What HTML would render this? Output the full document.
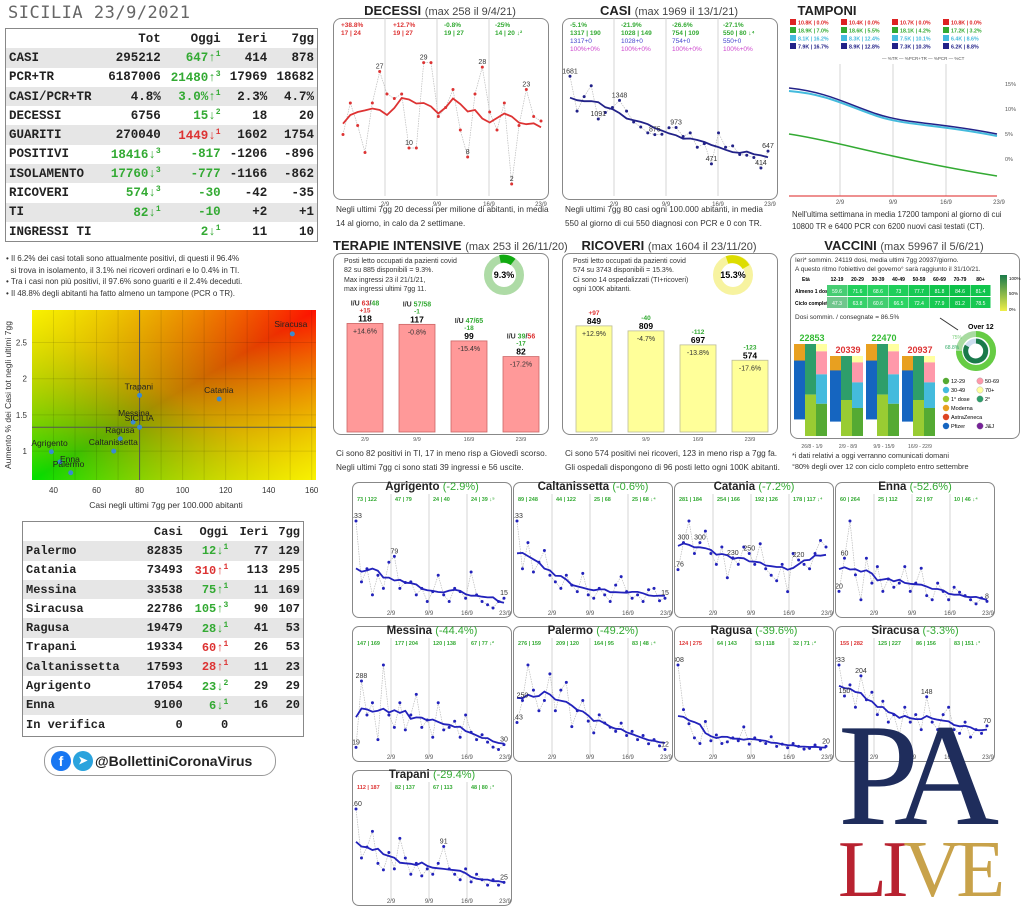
<!DOCTYPE html>
<html><head><meta charset="utf-8">
<style>
body{margin:0;width:1024px;height:918px;background:#fff;position:relative;overflow:hidden;font-family:"Liberation Sans",sans-serif;color:#222}
.a{position:absolute}
.mono{font-family:"Liberation Mono",monospace;font-weight:bold}
table.t{border-collapse:collapse;font-family:"Liberation Mono",monospace;font-weight:bold;font-size:12.5px}
table.t td{padding:0 3px;height:19.3px;text-align:right;white-space:nowrap}
table.t td:first-child{text-align:left}
table.t tr:nth-child(even) td{background:#e6e6e6}
.g{color:#3a3}.r{color:#d33}
sup{font-size:8px}
.box{position:absolute;border:1px solid #888;border-radius:8px;background:#fff}
.ttl{position:absolute;font-size:13px;font-weight:bold;text-align:center;white-space:nowrap}
.ttl span{font-weight:normal;font-size:11px;color:#444}
.cap{position:absolute;font-size:8.2px;line-height:13.5px;color:#333;white-space:nowrap}
</style></head><body>
<div class="a" style="left:8px;top:3px;font-family:'DejaVu Sans Mono',monospace;font-size:17px;color:#666;letter-spacing:0.5px">SICILIA 23/9/2021</div>
<div class="a" style="left:5px;top:28px;width:311px;height:212px;border:1px solid #888">
<table class="t" style="width:100%">
<tr style="background:#fff"><td></td><td>Tot</td><td>Oggi</td><td>Ieri</td><td>7gg</td></tr>
<tr><td>CASI</td><td>295212</td><td class="g">647↑<sup>1</sup></td><td>414</td><td>878</td></tr>
<tr><td>PCR+TR</td><td>6187006</td><td class="g">21480↑<sup>3</sup></td><td>17969</td><td>18682</td></tr>
<tr><td>CASI/PCR+TR</td><td>4.8%</td><td class="g">3.0%↑<sup>1</sup></td><td>2.3%</td><td>4.7%</td></tr>
<tr><td>DECESSI</td><td>6756</td><td class="g">15↓<sup>2</sup></td><td>18</td><td>20</td></tr>
<tr><td>GUARITI</td><td>270040</td><td class="r">1449↓<sup>1</sup></td><td>1602</td><td>1754</td></tr>
<tr><td>POSITIVI</td><td class="g">18416↓<sup>3</sup></td><td class="g">-817</td><td>-1206</td><td>-896</td></tr>
<tr><td>ISOLAMENTO</td><td class="g">17760↓<sup>3</sup></td><td class="g">-777</td><td>-1166</td><td>-862</td></tr>
<tr><td>RICOVERI</td><td class="g">574↓<sup>3</sup></td><td class="g">-30</td><td>-42</td><td>-35</td></tr>
<tr><td>TI</td><td class="g">82↓<sup>1</sup></td><td class="g">-10</td><td>+2</td><td>+1</td></tr>
<tr><td>INGRESSI TI</td><td></td><td class="g">2↓<sup>1</sup></td><td>11</td><td>10</td></tr>
</table></div>
<div class="cap" style="left:6px;top:253px;font-size:8px;line-height:11.5px">• Il 6.2% dei casi totali sono attualmente positivi, di questi il 96.4%<br>&nbsp;&nbsp;si trova in isolamento, il 3.1% nei ricoveri ordinari e lo 0.4% in TI.<br>• Tra i casi non più positivi, il 97.6% sono guariti e il 2.4% deceduti.<br>• Il 48.8% degli abitanti ha fatto almeno un tampone (PCR o TR).</div>

<svg class="a" style="left:0;top:300px" width="330" height="220" id="sc"></svg>

<div class="a" style="left:22px;top:521px;width:280px;height:214px;border:1px solid #888">
<table class="t" style="width:100%;font-size:12px">
<tr style="background:#fff"><td></td><td>Casi</td><td>Oggi</td><td>Ieri</td><td>7gg</td></tr>
<tr><td>Palermo</td><td>82835</td><td class="g">12↓<sup>1</sup></td><td>77</td><td>129</td></tr>
<tr><td>Catania</td><td>73493</td><td class="r">310↑<sup>1</sup></td><td>113</td><td>295</td></tr>
<tr><td>Messina</td><td>33538</td><td class="g">75↑<sup>1</sup></td><td>11</td><td>169</td></tr>
<tr><td>Siracusa</td><td>22786</td><td class="g">105↑<sup>3</sup></td><td>90</td><td>107</td></tr>
<tr><td>Ragusa</td><td>19479</td><td class="g">28↓<sup>1</sup></td><td>41</td><td>53</td></tr>
<tr><td>Trapani</td><td>19334</td><td class="r">60↑<sup>1</sup></td><td>26</td><td>53</td></tr>
<tr><td>Caltanissetta</td><td>17593</td><td class="r">28↑<sup>1</sup></td><td>11</td><td>23</td></tr>
<tr><td>Agrigento</td><td>17054</td><td class="g">23↓<sup>2</sup></td><td>29</td><td>29</td></tr>
<tr><td>Enna</td><td>9100</td><td class="g">6↓<sup>1</sup></td><td>16</td><td>20</td></tr>
<tr><td>In verifica</td><td>0</td><td>0</td><td></td><td></td></tr>
</table></div>
<div class="a" style="left:44px;top:746px;width:230px;height:28px;border:1px solid #999;border-radius:14px;font-weight:bold;font-size:14px;line-height:28px">
<span style="display:inline-block;width:20px;height:20px;border-radius:50%;background:#1877f2;color:#fff;text-align:center;line-height:20px;margin:4px 0 0 6px;vertical-align:top;font-size:14px">f</span><span style="display:inline-block;width:20px;height:20px;border-radius:50%;background:#2aa3dd;color:#fff;text-align:center;line-height:20px;margin:4px 2px 0 2px;vertical-align:top;font-size:11px">➤</span>@BollettiniCoronaVirus</div>

<div id="main"></div>

<div class="a" style="left:838px;top:702px;font-family:'Liberation Serif',serif;font-size:146px;color:#1f2d5c;letter-spacing:-12px;line-height:146px">PA</div>
<div class="a" style="left:838px;top:830px;font-family:'Liberation Serif',serif;font-size:80px;line-height:80px;color:#b82230;letter-spacing:-5px">LI<span style="color:#c8a24a">VE</span></div>

<script>
const NS='http://www.w3.org/2000/svg';
function svg(x,y,w,h){const s=document.createElementNS(NS,'svg');s.setAttribute('width',w);s.setAttribute('height',h);s.setAttribute('class','a');s.style.left=x+'px';s.style.top=y+'px';document.getElementById('main').appendChild(s);return s;}
function add(p,html){p.insertAdjacentHTML('beforeend',html);}
function div(x,y,cls,html,style){add(document.getElementById('main'),`<div class="${cls}" style="left:${x}px;top:${y}px;${style||''}">${html}</div>`);}
function series(s,x,y,w,h,vals,col,lab,ptcol){
 const n=vals.length,mx=Math.max(...vals)*1.15;
 const px=i=>x+i*w/(n-1),py=v=>y+h-v/mx*h;
 let pts=vals.map((v,i)=>px(i).toFixed(1)+','+py(v).toFixed(1)).join(' ');
 add(s,`<polyline points="${pts}" fill="none" stroke="#bbb" stroke-width="0.7" stroke-dasharray="1.5,1"/>`);
 let sm=vals.map((v,i)=>{let a=0,c=0;for(let k=-4;k<=4;k++){if(vals[i+k]!=null){a+=vals[i+k];c++}}return a/c});
 add(s,`<polyline points="${sm.map((v,i)=>px(i).toFixed(1)+','+py(v).toFixed(1)).join(' ')}" fill="none" stroke="${col}" stroke-width="1.8"/>`);
 vals.forEach((v,i)=>add(s,`<circle cx="${px(i)}" cy="${py(v)}" r="1.5" fill="${ptcol||col}"/>`));
 (lab||[]).forEach(i=>add(s,`<text x="${px(i)}" y="${py(vals[i])-3}" font-size="7" text-anchor="middle" fill="#333">${vals[i]}</text>`));
}
function vlines(s,x,y,w,h,dates,lblY){for(let k=1;k<=4;k++){const xx=x+w*k/4;if(k<4)add(s,`<line x1="${xx}" y1="${y}" x2="${xx}" y2="${y+h}" stroke="#ccc" stroke-width="0.8"/>`);add(s,`<text x="${xx}" y="${lblY}" font-size="6" text-anchor="middle" fill="#555">${dates[k-1]}</text>`);}}
const D=['2/9','9/9','16/9','23/9'];

div(333,3,'ttl','DECESSI <span>(max 258 il 9/4/21)</span>','width:214px');
div(333,18,'box','','width:214px;height:180px');
let s=svg(333,18,216,192);
add(s,`<text x="8" y="9" font-size="6.5" fill="#d33" font-weight="bold">+38.8%</text><text x="8" y="17" font-size="6.5" fill="#d33" font-weight="bold">17 | 24</text>
<text x="60" y="9" font-size="6.5" fill="#d33" font-weight="bold">+12.7%</text><text x="60" y="17" font-size="6.5" fill="#d33" font-weight="bold">19 | 27</text>
<text x="111" y="9" font-size="6.5" fill="#3a3" font-weight="bold">-0.8%</text><text x="111" y="17" font-size="6.5" fill="#3a3" font-weight="bold">19 | 27</text>
<text x="162" y="9" font-size="6.5" fill="#3a3" font-weight="bold">-25%</text><text x="162" y="17" font-size="6.5" fill="#3a3" font-weight="bold">14 | 20 ↓²</text>`);
vlines(s,0,0,208,178,D,188);
series(s,10,25,198,150,[13,20,15,9,20,27,22,21,22,10,10,29,29,17,19,23,14,8,22,28,18,14,20,2,15,23,17,16],'#d33',[5,9,11,17,19,23,25],'#d33');
div(336,203,'cap','Negli ultimi 7gg 20 decessi per milione di abitanti, in media<br>14 al giorno, in calo da 2 settimane.');

div(562,3,'ttl','CASI <span>(max 1969 il 13/1/21)</span>','width:214px');
div(562,18,'box','','width:214px;height:180px');
s=svg(562,18,216,192);
[['-5.1%','1317 | 190','1317+0'],['-21.9%','1028 | 149','1028+0'],['-26.6%','754 | 109','754+0'],['-27.1%','550 | 80 ↓⁴','550+0']].forEach((a,i)=>{const x=8+i*51;add(s,`<text x="${x}" y="9" font-size="6.5" fill="#3a3" font-weight="bold">${a[0]}</text><text x="${x}" y="17" font-size="6.5" fill="#3a3" font-weight="bold">${a[1]}</text><text x="${x}" y="25" font-size="6.5" fill="#44c">${a[2]}</text><text x="${x}" y="33" font-size="6.5" fill="#c4c">100%+0%</text>`)});
vlines(s,0,0,208,178,D,188);
series(s,8,40,198,140,[1681,1200,1400,1550,1091,1180,1250,1348,1200,1050,980,900,875,880,970,973,850,900,700,750,471,900,700,720,600,590,560,414,647],'#228',[0,4,7,12,15,20,27,28],'#228');
div(565,203,'cap','Negli ultimi 7gg 80 casi ogni 100.000 abitanti, in media<br>550 al giorno di cui 550 diagnosi con PCR e 0 con TR.');

div(787,3,'ttl','TAMPONI','width:80px');
s=svg(787,16,237,190);
const tc=['#d22','#3a3','#4bd','#228'];
[['10.8K | 0.0%','10.4K | 0.0%','10.7K | 0.0%','10.8K | 0.0%'],['18.9K | 7.0%','18.6K | 5.5%','18.1K | 4.2%','17.2K | 3.2%'],['8.1K | 16.2%','8.3K | 12.4%','7.5K | 10.1%','6.4K | 8.6%'],['7.9K | 16.7%','8.9K | 12.8%','7.3K | 10.3%','6.2K | 8.8%']].forEach((r,j)=>r.forEach((t,i)=>{add(s,`<rect x="${3+i*51}" y="${3+j*8}" width="6" height="6" fill="${tc[j]}"/><text x="${11+i*51}" y="${8.5+j*8}" font-size="5.3" fill="${tc[j]}" font-weight="bold">${t}</text>`)}));
add(s,`<text x="95" y="44" font-size="4.5" fill="#555">— %TR — %PCR+TR — %PCR — %CT</text>`);
vlines(s,0,48,212,132,D,188);
[60,85,110,135].forEach((yy,i)=>add(s,`<text x="218" y="${yy+10}" font-size="5.5" fill="#555">${15-5*i}%</text>`));
add(s,`<path d="M2,75 C40,78 60,90 90,100 S150,108 210,120" fill="none" stroke="#4bd" stroke-width="2"/><path d="M2,72 C40,76 60,88 90,98 S150,106 210,118" fill="none" stroke="#228" stroke-width="1.5"/><path d="M2,118 C50,125 100,142 210,160" fill="none" stroke="#3a3" stroke-width="1.5"/><line x1="2" y1="180" x2="210" y2="180" stroke="#d22"/>`);
div(792,209,'cap','Nell\'ultima settimana in media 17200 tamponi al giorno di cui<br>10800 TR e 6400 PCR con 6200 nuovi casi testati (CT).','font-size:7.8px;line-height:12px');

div(333,238,'ttl','TERAPIE INTENSIVE <span>(max 253 il 26/11/20)</span>','width:214px');
div(333,253,'box','','width:214px;height:180px');
s=svg(333,253,216,200);
add(s,`<text x="11" y="10" font-size="7" fill="#333">Posti letto occupati da pazienti covid</text><text x="11" y="19" font-size="7" fill="#333">82 su 885 disponibili = 9.3%.</text><text x="11" y="29" font-size="7" fill="#333">Max ingressi 23 il 21/1/21,</text><text x="11" y="38" font-size="7" fill="#333">max ingressi ultimi 7gg 11.</text>
<circle cx="171" cy="22" r="16" fill="none" stroke="#aedba6" stroke-width="8"/><path d="M167,6 A16,16 0 0 1 180,9" fill="none" stroke="#1a1" stroke-width="8"/><text x="171" y="25" font-size="9" text-anchor="middle" font-weight="bold">9.3%</text>`);
[[118,'+14.6%','I/U <tspan fill="#d33">63</tspan>/<tspan fill="#3a3">48</tspan>','+15','#d33'],[117,'-0.8%','I/U <tspan fill="#3a3">57/58</tspan>','-1','#3a3'],[99,'-15.4%','I/U <tspan fill="#3a3">47/65</tspan>','-18','#3a3'],[82,'-17.2%','I/U <tspan fill="#3a3">39</tspan>/<tspan fill="#d33">56</tspan>','-17','#3a3']].forEach((b,i)=>{const x=14+i*52,h=b[0]*0.92;const top=179-h;add(s,`<rect x="${x}" y="${top}" width="36" height="${h}" fill="#f99" stroke="#c66" stroke-width="0.8"/><text x="${x+18}" y="${top+10}" font-size="7" text-anchor="middle" fill="#333">${b[1]}</text><text x="${x+18}" y="${top-2}" font-size="8.5" font-weight="bold" text-anchor="middle">${b[0]}</text><text x="${x+18}" y="${top-11}" font-size="6.5" font-weight="bold" text-anchor="middle" fill="${b[4]}">${b[3]}</text><text x="${x+18}" y="${top-18}" font-size="7" font-weight="bold" text-anchor="middle" fill="#333">${b[2]}</text><text x="${x+18}" y="188" font-size="5.5" text-anchor="middle" fill="#555">${D[i]}</text>`)});
div(336,447,'cap','Ci sono 82 positivi in TI, 17 in meno risp a Giovedì scorso.<br>Negli ultimi 7gg ci sono stati 39 ingressi e 56 uscite.');

div(562,238,'ttl','RICOVERI <span>(max 1604 il 23/11/20)</span>','width:214px');
div(562,253,'box','','width:214px;height:180px');
s=svg(562,253,216,200);
add(s,`<text x="11" y="10" font-size="7" fill="#333">Posti letto occupati da pazienti covid</text><text x="11" y="19" font-size="7" fill="#333">574 su 3743 disponibili = 15.3%.</text><text x="11" y="29" font-size="7" fill="#333">Ci sono 14 ospedalizzati (TI+ricoveri)</text><text x="11" y="38" font-size="7" fill="#333">ogni 100K abitanti.</text>
<circle cx="171" cy="22" r="16" fill="none" stroke="#f7f3a0" stroke-width="8"/><path d="M165,7 A16,16 0 0 1 184,14" fill="none" stroke="#dd0" stroke-width="8"/><text x="171" y="25" font-size="9" text-anchor="middle" font-weight="bold">15.3%</text>`);
[[849,'+12.9%','+97','#d33'],[809,'-4.7%','-40','#3a3'],[697,'-13.8%','-112','#3a3'],[574,'-17.6%','-123','#3a3']].forEach((b,i)=>{const x=14+i*52,h=b[0]*0.125,top=179-h;add(s,`<rect x="${x}" y="${top}" width="36" height="${h}" fill="#ffff99" stroke="#bb9" stroke-width="0.8"/><text x="${x+18}" y="${top+10}" font-size="7" text-anchor="middle" fill="#333">${b[1]}</text><text x="${x+18}" y="${top-2}" font-size="8.5" font-weight="bold" text-anchor="middle">${b[0]}</text><text x="${x+18}" y="${top-11}" font-size="6.5" font-weight="bold" text-anchor="middle" fill="${b[3]}">${b[2]}</text><text x="${x+18}" y="188" font-size="5.5" text-anchor="middle" fill="#555">${D[i]}</text>`)});
div(565,447,'cap','Ci sono 574 positivi nei ricoveri, 123 in meno risp a 7gg fa.<br>Gli ospedali dispongono di 96 posti letto ogni 100K abitanti.');

div(790,238,'ttl','VACCINI <span>(max 59967 il 5/6/21)</span>','width:228px');
div(790,253,'box','','width:228px;height:184px');
s=svg(790,253,234,200);
add(s,`<text x="5" y="9" font-size="6.5" fill="#333">Ieri* sommin. 24119 dosi, media ultimi 7gg 20937/giorno.</text><text x="5" y="18" font-size="6.5" fill="#333">A questo ritmo l'obiettivo del governo° sarà raggiunto il 31/10/21.</text>`);
const ages=['12-19','20-29','30-39','40-49','50-59','60-69','70-79','80+'],r1=[59.6,71.6,68.6,73,77.7,81.8,84.6,81.4],r2=[47.3,63.8,60.6,66.5,72.4,77.9,81.2,78.5];
add(s,`<text x="12" y="28" font-size="5" font-weight="bold">Età</text><text x="5" y="40" font-size="5" font-weight="bold">Almeno 1 dose</text><text x="5" y="52" font-size="5" font-weight="bold">Ciclo completo</text><rect x="210" y="22" width="7" height="36" fill="url(#gr)"/><defs><linearGradient id="gr" x1="0" y1="0" x2="0" y2="1"><stop offset="0" stop-color="#1a7a4a"/><stop offset="1" stop-color="#efef4a"/></linearGradient></defs><text x="219" y="27" font-size="4.5">100%</text><text x="219" y="42" font-size="4.5">50%</text><text x="219" y="58" font-size="4.5">0%</text>`);
ages.forEach((a,i)=>{const x=37+i*20.5;const c=v=>`hsl(140,${40+((v-45)*1.2)}%,${62-(v-45)*0.55}%)`;add(s,`<text x="${x+10}" y="28" font-size="5" text-anchor="middle" font-weight="bold">${a}</text><rect x="${x}" y="32" width="20" height="11" fill="${c(r1[i])}"/><rect x="${x}" y="44" width="20" height="11" fill="${c(r2[i])}"/><text x="${x+10}" y="40" font-size="5" text-anchor="middle" fill="#fff">${r1[i]}</text><text x="${x+10}" y="52" font-size="5" text-anchor="middle" fill="#fff">${r2[i]}</text>`)});
add(s,`<text x="5" y="66" font-size="6.5" fill="#333">Dosi sommin. / consegnate = 86.5%</text><text x="178" y="76" font-size="7" font-weight="bold">Over 12</text><line x1="150" y1="65" x2="168" y2="77" stroke="#333"/>
<circle cx="186" cy="98" r="17" fill="none" stroke="#a8dba0" stroke-width="6"/><path d="M186,81 A17,17 0 1 1 169,98" fill="none" stroke="#6c4" stroke-width="6"/><circle cx="186" cy="98" r="10" fill="none" stroke="#cde" stroke-width="5"/><path d="M186,88 A10,10 0 1 1 177,93" fill="none" stroke="#1a7a4a" stroke-width="5"/><text x="162" y="86" font-size="5" fill="#7c7">75%</text><text x="155" y="96" font-size="5" fill="#3a6">68.8%</text>`);
[[22853,'#3b3'],[20339,'#d33'],[22470,'#3b3'],[20937,'#d33']].forEach((b,i)=>{const x=4+i*36,base=183;const H=b[0]==22853||b[0]==22470?92:80;
add(s,`<text x="${x+18}" y="${base-H-3}" font-size="9" font-weight="bold" text-anchor="middle" fill="${b[1]}">${b[0]}</text>
<rect x="${x}" y="${base-H}" width="11" height="${H*0.82}" fill="#1565c0"/><rect x="${x}" y="${base-H}" width="11" height="${H*0.18}" fill="#e8a020"/>
<rect x="${x+11}" y="${base-H}" width="11" height="${H*0.55}" fill="#2e9e6a"/><rect x="${x+11}" y="${base-H*0.45}" width="11" height="${H*0.45}" fill="#9c3"/>
<rect x="${x+22}" y="${base-H}" width="11" height="${H*0.08}" fill="#ffffa0"/><rect x="${x+22}" y="${base-H*0.92}" width="11" height="${H*0.25}" fill="#f9a"/><rect x="${x+22}" y="${base-H*0.67}" width="11" height="${H*0.32}" fill="#4bd"/><rect x="${x+22}" y="${base-H*0.35}" width="11" height="${H*0.35}" fill="#5a3"/>
<text x="${x+18}" y="195" font-size="5" text-anchor="middle" fill="#555">${['26/8 - 1/9','2/9 - 8/9','9/9 - 15/9','16/9 - 22/9'][i]}</text>`)});
[['#5a3','12-29','#f9a','50-69'],['#4bd','30-49','#ffffa0','70+'],['#9c3','1° dose','#2e9e6a','2°'],['#e8a020','Moderna'],['#d42','AstraZeneca'],['#1565c0','Pfizer','#729','J&J']].forEach((l,j)=>{const y=128+j*9;add(s,`<circle cx="156" cy="${y}" r="3.2" fill="${l[0]}"/><text x="161" y="${y+2}" font-size="5.5">${l[1]}</text>`);if(l[2])add(s,`<circle cx="190" cy="${y}" r="3.2" fill="${l[2]}" stroke="#888" stroke-width="0.3"/><text x="195" y="${y+2}" font-size="5.5">${l[3]}</text>`)});
div(792,450,'cap','*i dati relativi a oggi verranno comunicati domani<br>°80% degli over 12 con ciclo completo entro settembre','font-size:7.3px;line-height:11px');

const P=[['Agrigento','-2.9%',['73 | 122','47 | 79','24 | 40','24 | 39 ↓⁵'],['#3a3','#3a3','#3a3','#3a3'],[133,40,60,20,50,30,70,79,30,39,40,20,30,10,25,50,20,10,30,25,15,55,20,10,5,0,10,15]],
['Caltanissetta','-0.6%',['89 | 248','44 | 122','25 | 68','25 | 68 ↓⁴'],['#3a3','#3a3','#3a3','#3a3'],[133,60,100,55,70,88,50,40,30,50,35,25,53,20,15,30,20,10,35,48,25,15,20,10,28,30,11,15]],
['Catania','-7.2%',['281 | 184','254 | 166','192 | 126','178 | 117 ↓⁴'],['#3a3','#3a3','#3a3','#3a3'],[176,300,399,250,300,353,250,200,280,139,230,200,280,250,200,295,180,150,125,200,75,250,220,200,180,250,310,280]],
['Enna','-52.6%',['60 | 264','25 | 112','22 | 97','10 | 46 ↓⁴'],['#3a3','#3a3','#3a3','#3a3'],[20,60,105,40,10,60,30,50,20,35,25,30,50,20,30,48,15,10,30,20,10,25,19,15,10,5,12,8]],
['Messina','-44.4%',['147 | 169','177 | 204','120 | 138','67 | 77 ↓²'],['#3a3','#3a3','#3a3','#3a3'],[19,288,150,200,50,353,150,100,200,90,150,234,100,130,60,200,90,100,125,60,150,80,50,70,40,20,10,30]],
['Palermo','-49.2%',['276 | 159','209 | 120','164 | 95','83 | 48 ↓⁴'],['#3a3','#3a3','#3a3','#3a3'],[143,250,422,300,200,250,379,200,300,338,123,200,250,150,93,180,141,120,100,140,80,100,60,80,40,60,30,12]],
['Ragusa','-39.6%',['124 | 275','64 | 143','53 | 118','32 | 71 ↓²'],['#d33','#3a3','#3a3','#3a3'],[308,150,100,50,30,108,40,60,30,36,50,40,89,28,50,40,30,54,20,28,15,30,20,10,13,25,10,20]],
['Siracusa','-3.3%',['155 | 282','125 | 227','86 | 156','83 | 151 ↓³'],['#d33','#3a3','#3a3','#3a3'],[233,150,180,120,204,140,160,100,136,80,100,46,120,80,100,60,148,80,60,100,120,60,50,80,40,60,50,70]],
['Trapani','-29.4%',['112 | 187','82 | 137','67 | 113','48 | 80 ↓³'],['#d33','#3a3','#3a3','#3a3'],[160,70,90,119,60,48,80,50,106,70,40,60,37,50,40,60,91,50,40,30,50,26,40,30,20,30,20,25]]];
P.forEach((p,k)=>{const col=k%4,row=Math.floor(k/4);const x=352+col*161,y=482+row*144;
 div(x,y,'box','','width:158px;height:134px;border-radius:7px');
 div(x,y-1,'ttl',p[0]+' <span style="color:#3a3">('+p[1]+')</span>','width:160px;font-size:11.5px;background:transparent');
 const s=svg(x+1,y+12,158,125);
 p[2].forEach((t,i)=>add(s,`<text x="${4+i*38}" y="7" font-size="5.5" font-weight="bold" fill="${p[3][i]}">${t}</text>`));
 vlines(s,0,0,152,119,D,121);
 const v=p[4];let mx=Math.max(...v);let lab=[];v.forEach((a,i)=>{if(a>=mx*0.55&&i%3==1||i==0||i==v.length-1)lab.push(i)});
 series(s,3,14,148,100,v,'#22b',lab.slice(0,6),'#22b');
});
</script>
<script>
(function(){const s=document.getElementById('sc');const X=v=>32+(v-30)/(162-30)*284,Y=v=>180-(v-0.6)/(2.95-0.6)*170;
let h=`<defs><linearGradient id="sg" x1="0" y1="1" x2="1" y2="0"><stop offset="0" stop-color="#00e000"/><stop offset="0.5" stop-color="#c08000"/><stop offset="1" stop-color="#ff1000"/></linearGradient><linearGradient id="sg2" x1="0" y1="0" x2="1" y2="1"><stop offset="0" stop-color="#ffff00" stop-opacity="0.9"/><stop offset="0.5" stop-color="#ffff00" stop-opacity="0"/><stop offset="1" stop-color="#ffff00" stop-opacity="0.9"/></linearGradient></defs>
<rect x="32" y="10" width="284" height="170" fill="url(#sg)"/><rect x="32" y="10" width="284" height="170" fill="url(#sg2)"/>`;
for(let v=40;v<=160;v+=10)h+=`<line x1="${X(v)}" y1="10" x2="${X(v)}" y2="180" stroke="#000" stroke-opacity="0.1"/>`;
[1,1.5,2,2.5].forEach(v=>{h+=`<line x1="32" y1="${Y(v)}" x2="316" y2="${Y(v)}" stroke="#000" stroke-opacity="0.1"/><text x="27" y="${Y(v)+3}" font-size="8" text-anchor="end" fill="#333">${v}</text>`});
[40,60,80,100,120,140,160].forEach(v=>h+=`<text x="${X(v)}" y="193" font-size="8" text-anchor="middle" fill="#333">${v}</text>`);
h+=`<line x1="${X(80)}" y1="10" x2="${X(80)}" y2="180" stroke="#555"/><line x1="32" y1="${Y(1.33)}" x2="316" y2="${Y(1.33)}" stroke="#555"/>`;
[['Siracusa',151,2.62,-18,-7],['Catania',117,1.72,-15,-6],['Trapani',80,1.77,-15,-6],['Messina',77,1.4,-15,-6],['SICILIA',80,1.33,-15,-6],['Ragusa',71,1.17,-15,-6],['Caltanissetta',68,1,-25,-6],['Agrigento',39,0.99,-20,-6],['Enna',43,0.85,0,0],['Palermo',48,0.7,-18,-6]].forEach(p=>{h+=`<circle cx="${X(p[1])}" cy="${Y(p[2])}" r="2.5" fill="#3a8ad0"/><text x="${X(p[1])+p[3]}" y="${Y(p[2])+p[4]}" font-size="8.5" fill="#222">${p[0]}</text>`});
h+=`<text x="166" y="208" font-size="8.5" text-anchor="middle" fill="#333">Casi negli ultimi 7gg per 100.000 abitanti</text><text transform="translate(11,95) rotate(-90)" font-size="8.5" text-anchor="middle" fill="#333">Aumento % dei Casi tot negli ultimi 7gg</text>`;
s.innerHTML=h;})();
</script>
</body></html>
